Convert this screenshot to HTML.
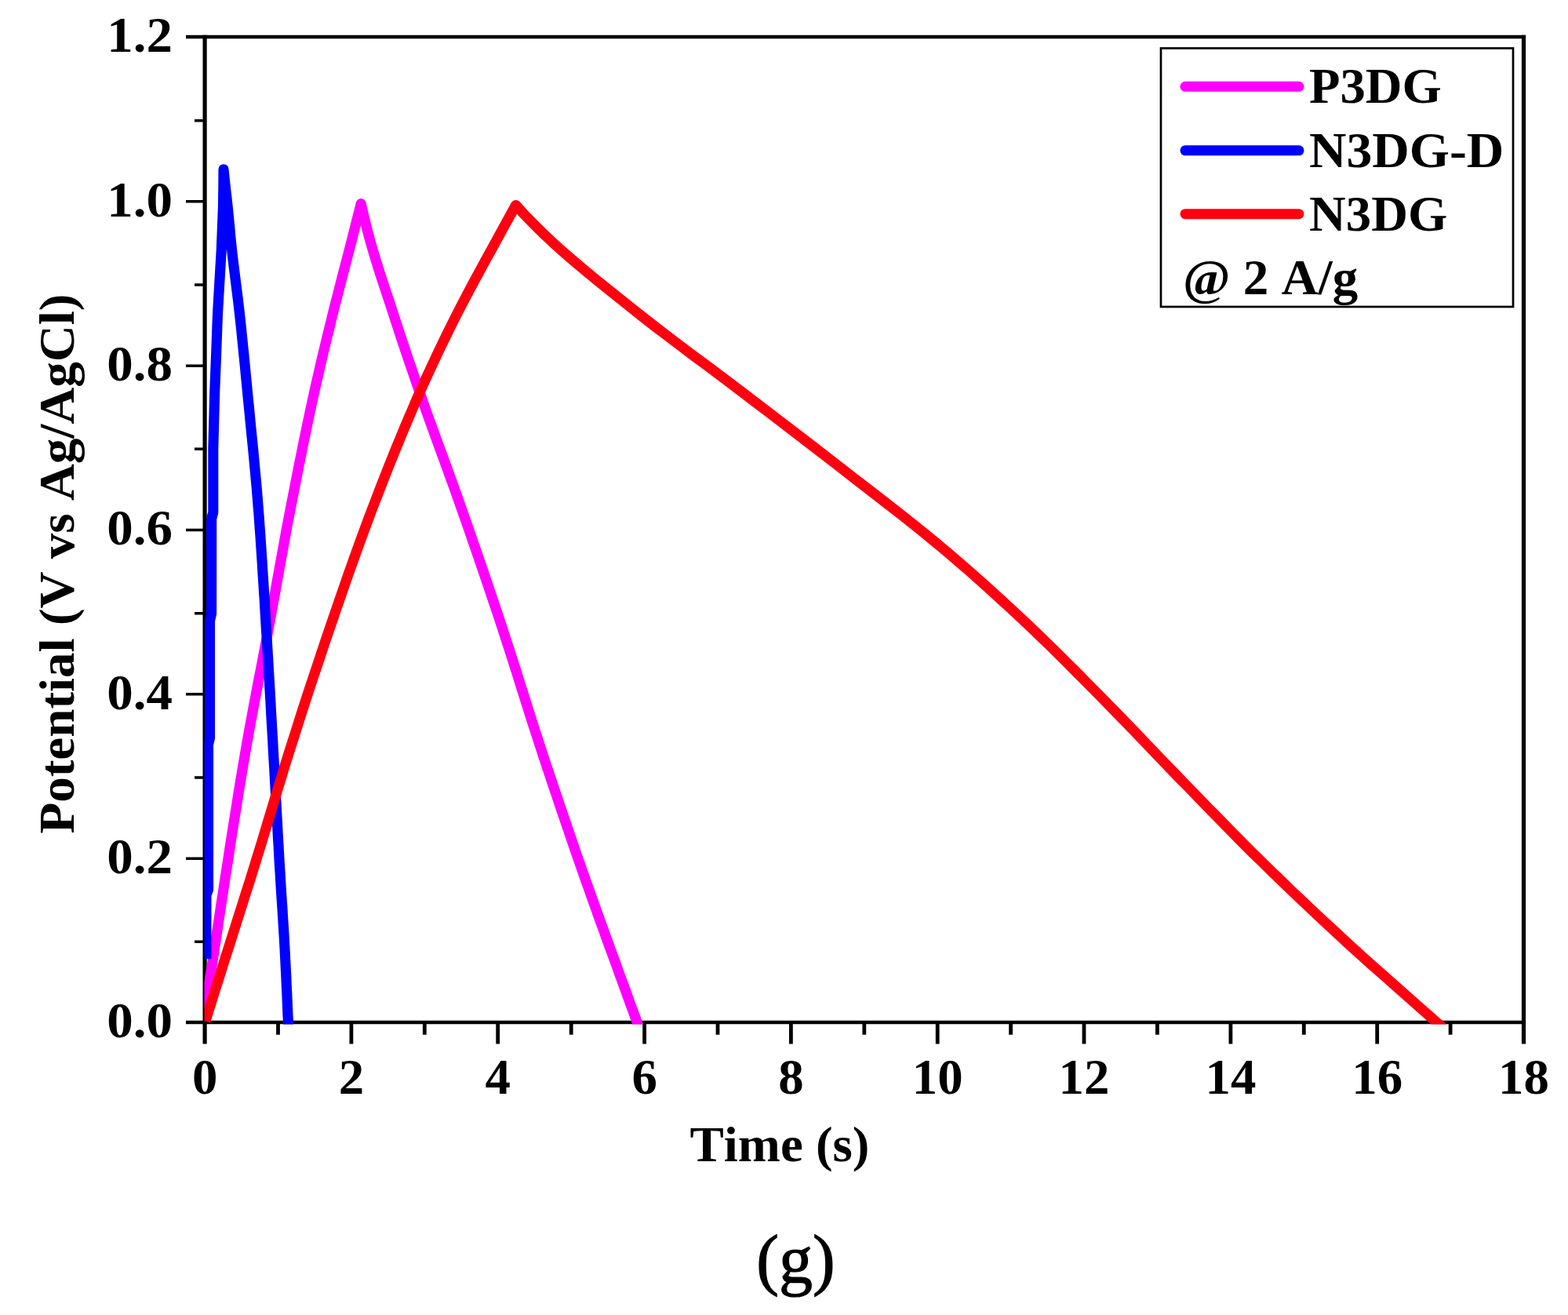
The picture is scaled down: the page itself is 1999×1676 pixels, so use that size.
<!DOCTYPE html>
<html lang="en"><head><meta charset="utf-8"><title>GCD curves at 2 A/g</title>
<style>
html,body{margin:0;padding:0;background:#fff;}
body{width:1999px;height:1676px;overflow:hidden;}
svg{display:block;filter:blur(0.7px);}
text{font-family:"Liberation Serif","DejaVu Serif",serif;font-kerning:none;fill:#000;}
.b{font-weight:bold;font-size:63px;}
.cap{font-size:86px;}
</style></head><body>
<svg width="1999" height="1676" viewBox="0 0 1999 1676" role="img" aria-label="Galvanostatic charge-discharge curves of P3DG, N3DG-D and N3DG at 2 A/g">
<rect width="1999" height="1676" fill="#fff"/>
<defs><clipPath id="plot"><rect x="260.5" y="47.0" width="1682.0" height="1258.6"/></clipPath></defs>
<g stroke="#000" fill="none" stroke-linecap="butt">
<path stroke-width="4.6" d="M237 1303.0 H1945.1 M237 47.0 H1945.1"/>
<path stroke-width="5.2" d="M261.1 44.75 V1330.5 M1942.5 44.75 V1330.5"/>
<path stroke-width="4.8" d="M354.5 1303.0 V1318.8 M447.9 1303.0 V1330.5 M541.3 1303.0 V1318.8 M634.7 1303.0 V1330.5 M728.2 1303.0 V1318.8 M821.6 1303.0 V1330.5 M915.0 1303.0 V1318.8 M1008.4 1303.0 V1330.5 M1101.8 1303.0 V1318.8 M1195.2 1303.0 V1330.5 M1288.6 1303.0 V1318.8 M1382.0 1303.0 V1330.5 M1475.4 1303.0 V1318.8 M1568.9 1303.0 V1330.5 M1662.3 1303.0 V1318.8 M1755.7 1303.0 V1330.5 M1849.1 1303.0 V1318.8"/>
<path stroke-width="3.6" d="M248.0 1200.3 H261.1 M237.0 1094.2 H261.1 M248.0 991.0 H261.1 M237.0 884.8 H261.1 M248.0 781.7 H261.1 M237.0 675.5 H261.1 M248.0 572.3 H261.1 M237.0 466.2 H261.1 M248.0 363.0 H261.1 M237.0 256.8 H261.1 M248.0 153.7 H261.1"/>
</g>
<g class="b" text-anchor="middle">
<text transform="translate(261.1 1394.4) scale(1.03 1)">0</text>
<text transform="translate(447.9 1394.4) scale(1.03 1)">2</text>
<text transform="translate(634.7 1394.4) scale(1.03 1)">4</text>
<text transform="translate(821.6 1394.4) scale(1.03 1)">6</text>
<text transform="translate(1008.4 1394.4) scale(1.03 1)">8</text>
<text transform="translate(1195.2 1394.4) scale(1.03 1)">10</text>
<text transform="translate(1382.0 1394.4) scale(1.03 1)">12</text>
<text transform="translate(1568.9 1394.4) scale(1.03 1)">14</text>
<text transform="translate(1755.7 1394.4) scale(1.03 1)">16</text>
<text transform="translate(1942.5 1394.4) scale(1.03 1)">18</text>
</g>
<g class="b" text-anchor="end">
<text transform="translate(219.9 1322.2) scale(1.063 1)">0.0</text>
<text transform="translate(219.9 1112.9) scale(1.063 1)">0.2</text>
<text transform="translate(219.9 903.5) scale(1.063 1)">0.4</text>
<text transform="translate(219.9 694.2) scale(1.063 1)">0.6</text>
<text transform="translate(219.9 484.9) scale(1.063 1)">0.8</text>
<text transform="translate(219.9 275.5) scale(1.063 1)">1.0</text>
<text transform="translate(219.9 66.2) scale(1.063 1)">1.2</text>
</g>
<text class="b" x="879.5" y="1480.4" textLength="229" lengthAdjust="spacingAndGlyphs">Time (s)</text>
<text class="b" transform="translate(94 1062.5) rotate(-90)" textLength="688" lengthAdjust="spacingAndGlyphs">Potential (V vs Ag/AgCl)</text>
<text class="cap" x="1014.4" y="1634" text-anchor="middle" stroke="#000" stroke-width="1.2">(g)</text>
<g clip-path="url(#plot)">
<path d="M261.4 1285.0 L263.4 1272.9 L265.3 1260.9 L267.2 1248.8 L269.2 1236.7 L271.1 1224.7 L272.9 1212.6 L274.8 1200.5 L276.6 1188.5 L278.4 1176.4 L280.2 1164.4 L282.0 1152.3 L283.9 1140.2 L285.7 1128.2 L287.5 1116.1 L289.4 1104.0 L291.3 1092.0 L293.1 1079.9 L295.0 1067.8 L296.9 1055.8 L298.8 1043.7 L300.8 1031.6 L302.7 1019.6 L304.6 1007.5 L306.6 995.4 L308.6 983.4 L310.6 971.3 L312.7 959.3 L314.8 947.2 L316.9 935.1 L319.1 923.1 L321.4 911.0 L323.6 898.9 L325.9 886.9 L328.2 874.8 L330.5 862.7 L332.9 850.7 L335.2 838.6 L337.5 826.5 L339.8 814.5 L342.1 802.4 L344.3 790.3 L346.5 778.3 L348.7 766.2 L350.9 754.2 L353.0 742.1 L355.2 730.0 L357.4 718.0 L359.6 705.9 L361.8 693.8 L364.0 681.8 L366.2 669.7 L368.5 657.6 L370.9 645.6 L373.2 633.5 L375.6 621.4 L377.9 609.4 L380.3 597.3 L382.7 585.2 L385.2 573.2 L387.6 561.1 L390.1 549.1 L392.6 537.0 L395.2 524.9 L397.8 512.9 L400.4 500.8 L403.1 488.7 L405.9 476.7 L408.7 464.6 L411.5 452.5 L414.4 440.5 L417.3 428.4 L420.3 416.3 L423.2 404.3 L426.2 392.2 L429.3 380.1 L432.4 368.1 L435.5 356.0 L438.6 344.0 L441.8 331.9 L444.9 319.8 L448.0 307.8 L451.1 295.7 L454.1 283.6 L457.2 271.6 L460.2 259.5 L462.9 271.5 L465.8 283.5 L468.8 295.4 L472.0 307.4 L475.5 319.4 L479.1 331.4 L482.9 343.4 L486.7 355.4 L490.7 367.3 L494.6 379.3 L498.6 391.3 L502.5 403.3 L506.4 415.3 L510.3 427.3 L514.3 439.2 L518.3 451.2 L522.4 463.2 L526.5 475.2 L530.6 487.2 L534.7 499.2 L538.9 511.1 L543.1 523.1 L547.4 535.1 L551.8 547.1 L556.1 559.1 L560.5 571.1 L564.9 583.0 L569.3 595.0 L573.6 607.0 L578.0 619.0 L582.3 631.0 L586.5 643.0 L590.7 654.9 L594.9 666.9 L599.1 678.9 L603.2 690.9 L607.4 702.9 L611.5 714.9 L615.6 726.8 L619.7 738.8 L623.7 750.8 L627.8 762.8 L631.8 774.8 L635.8 786.8 L639.8 798.7 L643.7 810.7 L647.6 822.7 L651.5 834.7 L655.3 846.7 L659.1 858.6 L662.8 870.6 L666.6 882.6 L670.4 894.6 L674.2 906.6 L678.0 918.6 L681.9 930.5 L685.8 942.5 L689.7 954.5 L693.6 966.5 L697.6 978.5 L701.6 990.5 L705.6 1002.4 L709.7 1014.4 L713.7 1026.4 L717.8 1038.4 L721.9 1050.4 L726.0 1062.4 L730.1 1074.3 L734.2 1086.3 L738.4 1098.3 L742.6 1110.3 L746.8 1122.3 L751.1 1134.3 L755.3 1146.2 L759.6 1158.2 L763.9 1170.2 L768.3 1182.2 L772.6 1194.2 L776.9 1206.2 L781.3 1218.1 L785.7 1230.1 L790.0 1242.1 L794.4 1254.1 L798.8 1266.1 L803.1 1278.1 L807.5 1290.0 L811.8 1302.0 L816.2 1314.0" stroke="#ff00ff" stroke-width="13.1" fill="none" stroke-linejoin="round" stroke-linecap="butt"/>
<path d="M262.9 1222.0 L262.9 1141.0 L265.5 1134.0 L265.5 949.0 L267.5 941.0 L267.5 791.0 L269.6 782.0 L269.7 661.0 L271.8 653.0 L271.8 572.0 L273.7 500.0 L275.6 452.0 L277.5 400.0 L279.7 362.0 L282.3 318.0 L283.0 300.0 L284.4 265.0 L284.8 240.0 L285.0 215.7 L286.2 227.6 L287.5 239.6 L288.9 251.5 L290.2 263.5 L291.4 275.4 L292.6 287.3 L293.6 299.3 L294.8 311.2 L296.1 323.1 L297.5 335.1 L299.0 347.0 L300.5 359.0 L302.0 370.9 L303.5 382.8 L304.9 394.8 L306.2 406.7 L307.5 418.6 L308.7 430.6 L309.9 442.5 L311.1 454.5 L312.3 466.4 L313.4 478.3 L314.6 490.3 L315.7 502.2 L316.9 514.2 L318.1 526.1 L319.2 538.0 L320.4 550.0 L321.6 561.9 L322.8 573.8 L323.9 585.8 L325.0 597.7 L326.1 609.7 L327.2 621.6 L328.2 633.5 L329.1 645.5 L330.1 657.4 L330.9 669.3 L331.8 681.3 L332.6 693.2 L333.4 705.2 L334.2 717.1 L334.9 729.0 L335.7 741.0 L336.4 752.9 L337.2 764.8 L337.9 776.8 L338.6 788.7 L339.3 800.7 L340.1 812.6 L340.8 824.5 L341.5 836.5 L342.2 848.4 L342.9 860.4 L343.6 872.3 L344.3 884.2 L345.0 896.2 L345.6 908.1 L346.3 920.0 L347.0 932.0 L347.7 943.9 L348.3 955.9 L349.0 967.8 L349.7 979.7 L350.3 991.7 L351.0 1003.6 L351.6 1015.5 L352.3 1027.5 L352.9 1039.4 L353.6 1051.4 L354.2 1063.3 L354.9 1075.2 L355.6 1087.2 L356.2 1099.1 L357.0 1111.1 L357.7 1123.0 L358.4 1134.9 L359.2 1146.9 L360.0 1158.8 L360.7 1170.7 L361.5 1182.7 L362.2 1194.6 L362.9 1206.6 L363.5 1218.5 L364.1 1230.4 L364.7 1242.4 L365.2 1254.3 L365.8 1266.2 L366.3 1278.2 L366.8 1290.1 L367.4 1302.1 L367.9 1314.0" stroke="#0000ff" stroke-width="13.1" fill="none" stroke-linejoin="round" stroke-linecap="butt"/>
<path d="M261.9 1301.5 L265.6 1289.5 L269.4 1277.6 L273.1 1265.6 L276.9 1253.7 L280.7 1241.7 L284.4 1229.8 L288.2 1217.8 L292.0 1205.9 L295.8 1193.9 L299.6 1182.0 L303.4 1170.0 L307.2 1158.1 L311.0 1146.1 L314.8 1134.1 L318.6 1122.2 L322.3 1110.2 L326.0 1098.3 L329.7 1086.3 L333.4 1074.4 L337.0 1062.4 L340.6 1050.5 L344.2 1038.5 L347.8 1026.6 L351.4 1014.6 L355.0 1002.6 L358.7 990.7 L362.3 978.7 L366.0 966.8 L369.8 954.8 L373.6 942.9 L377.4 930.9 L381.2 919.0 L385.0 907.0 L388.9 895.1 L392.8 883.1 L396.7 871.2 L400.7 859.2 L404.7 847.2 L408.7 835.3 L412.7 823.3 L416.7 811.4 L420.8 799.4 L424.9 787.5 L429.0 775.5 L433.1 763.6 L437.3 751.6 L441.4 739.7 L445.6 727.7 L449.9 715.8 L454.1 703.8 L458.5 691.8 L462.8 679.9 L467.3 667.9 L471.7 656.0 L476.3 644.0 L480.9 632.1 L485.5 620.1 L490.2 608.2 L494.9 596.2 L499.7 584.3 L504.5 572.3 L509.4 560.4 L514.3 548.4 L519.4 536.4 L524.5 524.5 L529.6 512.5 L534.8 500.6 L540.2 488.6 L545.6 476.7 L551.2 464.7 L556.8 452.8 L562.5 440.8 L568.3 428.9 L574.2 416.9 L580.2 404.9 L586.3 393.0 L592.5 381.0 L598.8 369.1 L605.2 357.1 L611.7 345.2 L618.2 333.2 L624.8 321.3 L631.3 309.3 L637.8 297.4 L644.4 285.4 L651.0 273.5 L657.6 261.5 L668.6 273.5 L680.2 285.4 L692.3 297.4 L705.0 309.3 L718.4 321.3 L732.2 333.3 L746.5 345.2 L761.0 357.2 L775.8 369.1 L790.8 381.1 L805.8 393.1 L820.8 405.0 L836.2 417.0 L851.8 428.9 L867.6 440.9 L883.6 452.9 L899.7 464.8 L915.7 476.8 L931.6 488.7 L947.4 500.7 L963.1 512.7 L978.8 524.6 L994.4 536.6 L1010.0 548.5 L1025.6 560.5 L1041.2 572.5 L1056.6 584.4 L1072.1 596.4 L1087.4 608.3 L1102.9 620.3 L1118.4 632.3 L1133.8 644.2 L1149.1 656.2 L1164.2 668.1 L1179.1 680.1 L1193.7 692.1 L1208.0 704.0 L1221.9 716.0 L1235.7 727.9 L1249.2 739.9 L1262.6 751.9 L1275.7 763.8 L1288.7 775.8 L1301.6 787.8 L1314.3 799.7 L1326.8 811.7 L1339.1 823.6 L1351.3 835.6 L1363.3 847.6 L1375.2 859.5 L1387.0 871.5 L1398.8 883.4 L1410.6 895.4 L1422.3 907.4 L1434.0 919.3 L1445.5 931.3 L1457.0 943.2 L1468.4 955.2 L1479.9 967.2 L1491.4 979.1 L1502.9 991.1 L1514.6 1003.0 L1526.2 1015.0 L1537.8 1027.0 L1549.5 1038.9 L1561.2 1050.9 L1573.0 1062.8 L1584.8 1074.8 L1596.8 1086.8 L1608.9 1098.7 L1621.1 1110.7 L1633.5 1122.6 L1645.9 1134.6 L1658.5 1146.6 L1671.2 1158.5 L1683.9 1170.5 L1696.8 1182.4 L1709.7 1194.4 L1722.7 1206.4 L1736.0 1218.3 L1749.3 1230.3 L1762.8 1242.2 L1776.3 1254.2 L1789.9 1266.2 L1803.4 1278.1 L1817.0 1290.1 L1830.4 1302.0 L1843.8 1314.0" stroke="#ff0010" stroke-width="13.1" fill="none" stroke-linejoin="round" stroke-linecap="butt"/>
</g>
<rect x="1480" y="61.5" width="449" height="329.5" fill="#fff" stroke="#000" stroke-width="2.7"/>
<path d="M1511 110.3 H1656" stroke="#ff00ff" stroke-width="13" stroke-linecap="round" fill="none"/>
<path d="M1511 191.8 H1656" stroke="#0000ff" stroke-width="13" stroke-linecap="round" fill="none"/>
<path d="M1511 272.7 H1656" stroke="#ff0010" stroke-width="13" stroke-linecap="round" fill="none"/>
<g class="b">
<text x="1669" y="131" textLength="168.75" lengthAdjust="spacingAndGlyphs">P3DG</text>
<text x="1669" y="212.8" textLength="248.25" lengthAdjust="spacingAndGlyphs">N3DG-D</text>
<text x="1669" y="293.9" textLength="176.25" lengthAdjust="spacingAndGlyphs">N3DG</text>
<text x="1508" y="374.6" textLength="223.25" lengthAdjust="spacingAndGlyphs">@ 2 A/g</text>
</g>
</svg>
</body></html>
